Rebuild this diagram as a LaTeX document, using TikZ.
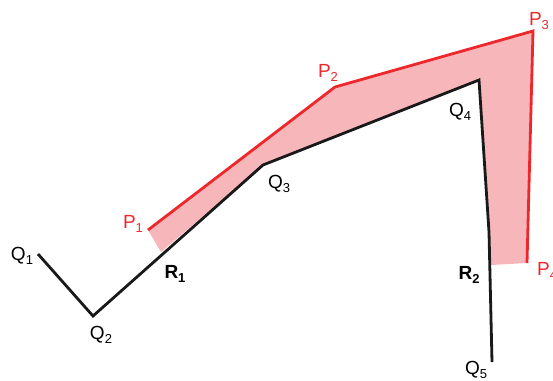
\documentclass[tikz,border=0pt]{standalone}
\usepackage{fontspec}
\setmainfont{Liberation Sans}
\usepackage{tikz}
\usepackage{xcolor}
\definecolor{offsetred}{RGB}{237,40,45}
\definecolor{offsetpink}{RGB}{247,183,186}
\newcommand{\ptsub}[1]{\raisebox{-4pt}{\fontsize{13}{13}\selectfont #1}}

\begin{document}
\begin{tikzpicture}[x=1pt, y=-1pt,
    ptlabel/.style={font=\fontsize{19}{19}\selectfont, inner sep=0pt}]
    \useasboundingbox (0,0) rectangle (553,380);

    % polyline Q and offset polyline P
    \coordinate (Q1) at (38,254);
    \coordinate (Q2) at (93,316);
    \coordinate (R1) at (161,252);
    \coordinate (Q3) at (263,165);
    \coordinate (Q4) at (479,80);
    \coordinate (Qb) at (489,232);
    \coordinate (R2) at (491,265);
    \coordinate (Q5) at (492,362);
    \coordinate (P1) at (148,230);
    \coordinate (P2) at (335,87);
    \coordinate (P3) at (533,31);
    \coordinate (P4) at (527,263);

    \fill[offsetpink] (P1) -- (P2) -- (P3) -- (P4) -- (R2) -- (Qb) -- (Q4) -- (Q3) -- (R1) -- cycle;
    \draw[line width=2.8pt, offsetred] (P1) -- (P2) -- (P3) -- (P4);
    \draw[line width=2.8pt, black!90] (Q1) -- (Q2) -- (Q3) -- (Q4) -- (Qb) -- (Q5);

    \node[ptlabel] (lq1) at (22,256) {Q\ptsub{1}};
    \node[ptlabel] (lq2) at (101,335) {Q\ptsub{2}};
    \node[ptlabel] (lq3) at (279,184) {Q\ptsub{3}};
    \node[ptlabel] (lq4) at (460,112) {Q\ptsub{4}};
    \node[ptlabel] (lq5) at (476,370) {Q\ptsub{5}};
    \node[ptlabel] (lr1) at (175,274) {\textbf{R\ptsub{1}}};
    \node[ptlabel] (lr2) at (469,275) {\textbf{R\ptsub{2}}};
    \node[ptlabel, offsetred] (lp1) at (133,224) {P\ptsub{1}};
    \node[ptlabel, offsetred] (lp2) at (328,73) {P\ptsub{2}};
    \node[ptlabel, offsetred] (lp3) at (539,21) {P\ptsub{3}};
    \node[ptlabel, offsetred, anchor=west] (lp4) at (537,271) {P\ptsub{4}};
\end{tikzpicture}
\end{document}
